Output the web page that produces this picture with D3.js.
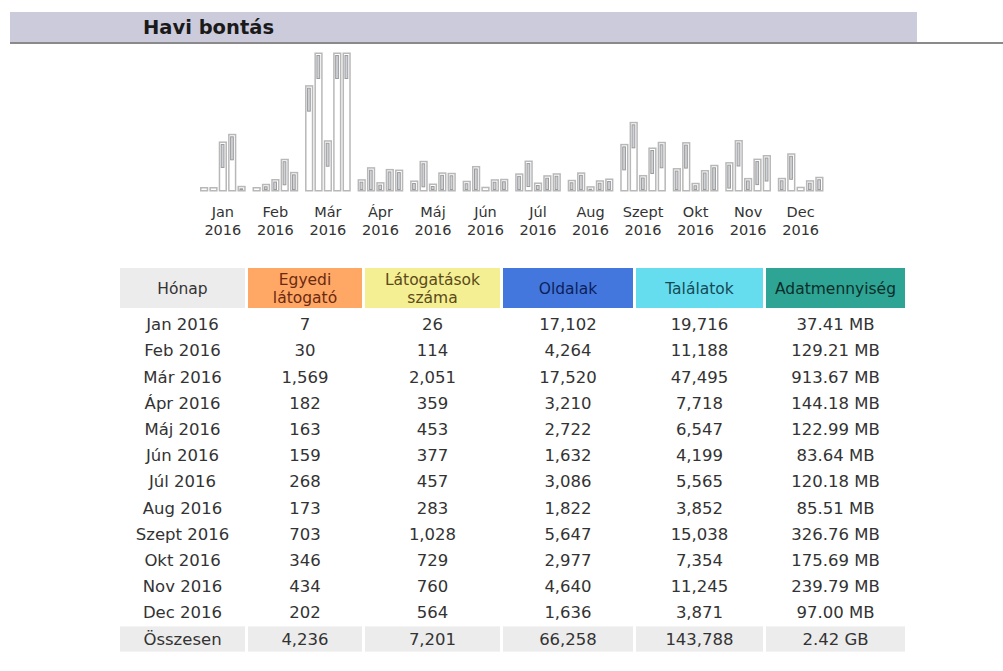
<!DOCTYPE html>
<html><head><meta charset="utf-8">
<script src="https://cdn.jsdelivr.net/npm/d3@7"></script>
<style>body{margin:0;background:#fff}svg{display:block}</style>
</head><body><svg id="c" width="1003" height="671"></svg>
<script>
const title = "Havi bontás";
const months = ["Jan","Feb","Már","Ápr","Máj","Jún","Júl","Aug","Szept","Okt","Nov","Dec"];
const year = "2016";
const uniqueVisitors = [7,30,1569,182,163,159,268,173,703,346,434,202];
const visits = [26,114,2051,359,453,377,457,283,1028,729,760,564];
const pages = [17102,4264,17520,3210,2722,1632,3086,1822,5647,2977,4640,1636];
const hits = [19716,11188,47495,7718,6547,4199,5565,3852,15038,7354,11245,3871];
const bandwidthMB = [37.41,129.21,913.67,144.18,122.99,83.64,120.18,85.51,326.76,175.69,239.79,97.00];
const headers = [["Hónap"],["Egyedi","látogató"],["Látogatások","száma"],["Oldalak"],["Találatok"],["Adatmennyiség"]];
const totalLabel = "Összesen";
const totals = ["4,236","7,201","66,258","143,788","2.42 GB"];

const svg = d3.select("#c");
const FONT = "'DejaVu Sans', Verdana, sans-serif";

// Section title bar
svg.append("rect").attr("x",10).attr("y",12).attr("width",907).attr("height",30).attr("fill","#cccbdc");
svg.append("rect").attr("x",10).attr("y",42).attr("width",993).attr("height",2).attr("fill","#8a8a8a");
svg.append("text").attr("x",143).attr("y",34).attr("font-family",FONT).attr("font-weight","bold")
  .attr("font-size",19.5).attr("fill","#1a1a1a").text(title);

// Bar chart
const x = d3.scaleBand().domain(months).range([200, 823.5]).paddingInner(0.13).paddingOuter(0);
const series = ["u","v","p","h","k"];
const xs = d3.scaleBand().domain(series).range([0, x.bandwidth()]).paddingInner(0.12);
const baseY = 191.5, topY = 52.5;
const yV = d3.scaleLinear().domain([0, d3.max(visits)]).range([baseY, topY]);
const yH = d3.scaleLinear().domain([0, d3.max(hits)]).range([baseY, topY]);
const yK = d3.scaleLinear().domain([0, d3.max(bandwidthMB)]).range([baseY, topY]);
const bars = [];
months.forEach((m,i)=>{
  bars.push({m, s:"u", y:yV(uniqueVisitors[i])});
  bars.push({m, s:"v", y:yV(visits[i])});
  bars.push({m, s:"p", y:yH(pages[i])});
  bars.push({m, s:"h", y:yH(hits[i])});
  bars.push({m, s:"k", y:yK(bandwidthMB[i])});
});
const minH = 4.5;
const g = svg.append("g");
bars.forEach(b=>{
  const bx = x(b.m)+xs(b.s), bw = xs.bandwidth();
  const h = Math.max(minH, baseY - b.y);
  const y0 = baseY - h;
  g.append("rect").attr("x",bx+0.75).attr("y",y0+0.75).attr("width",bw-1.5).attr("height",h-1.5)
    .attr("fill","#fff").attr("stroke","#b8b8b8").attr("stroke-width",1.5);
  const sh = Math.min(23, h-5);
  if (sh > 0) {
    g.append("rect").attr("x",bx+2.5).attr("y",y0+3).attr("width",bw-5.5).attr("height",sh)
      .attr("fill","#cfd2d8").attr("stroke","#9c9c9c").attr("stroke-width",1);
  }
});
// month labels
const lab = svg.append("g").attr("font-family",FONT).attr("font-size",14.5).attr("fill","#333").attr("text-anchor","middle");
months.forEach(m=>{
  const cx = x(m)+x.bandwidth()/2;
  lab.append("text").attr("x",cx).attr("y",217).text(m);
  lab.append("text").attr("x",cx).attr("y",235).text(year);
});

// Table
const colEdges = [[120,245],[248,362],[365,500],[503,633],[636,763],[766,905]];
const headFill = ["#ececec","#ffa866","#f4ef92","#4477dd","#66ddee","#2ea495"];
const headText = ["#333","#6b2a10","#5a4a1a","#0d1f5a","#154a55","#0b2e28"];
const t = svg.append("g").attr("font-family",FONT).attr("text-anchor","middle");
headers.forEach((h,j)=>{
  const [a,b] = colEdges[j];
  t.append("rect").attr("x",a).attr("y",268).attr("width",b-a).attr("height",40).attr("fill",headFill[j]);
  const cx=(a+b)/2;
  if (h.length===1) t.append("text").attr("x",cx).attr("y",294).attr("font-size",15.5).attr("fill",headText[j]).text(h[0]);
  else { t.append("text").attr("x",cx).attr("y",285).attr("font-size",15.5).attr("fill",headText[j]).text(h[0]);
         t.append("text").attr("x",cx).attr("y",303).attr("font-size",15.5).attr("fill",headText[j]).text(h[1]); }
});
const rowLabels = months.map(m=>m+" "+year).concat([totalLabel]);
const ry = d3.scaleBand().domain(rowLabels).range([311, 311+13*26.2]);
const fmt = d3.format(",");
const fmtMB = v => d3.format(".2f")(v)+" MB";
const rows = months.map((m,i)=>[m+" "+year, fmt(uniqueVisitors[i]), fmt(visits[i]), fmt(pages[i]), fmt(hits[i]), fmtMB(bandwidthMB[i])]);
rows.push([totalLabel].concat(totals));
colEdges.forEach(([a,b])=>{
  t.append("rect").attr("x",a).attr("y",ry(totalLabel)+1).attr("width",b-a).attr("height",ry.bandwidth()-1).attr("fill","#ececec");
});
rows.forEach(r=>{
  const cy = ry(r[0])+ry.bandwidth()/2;
  r.forEach((v,j)=>{
    const [a,b]=colEdges[j];
    t.append("text").attr("x",(a+b)/2).attr("y",cy+6).attr("font-size",16.5).attr("fill","#333").text(v);
  });
});
</script></body></html>
